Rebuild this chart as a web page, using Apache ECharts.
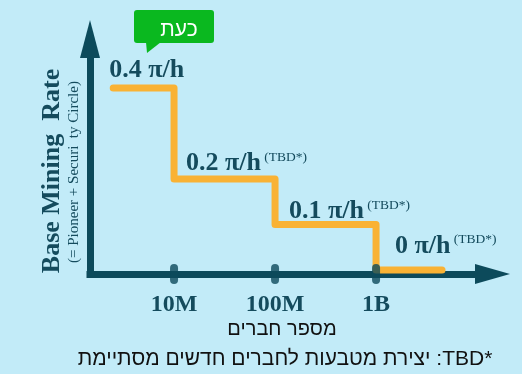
<!DOCTYPE html>
<html>
<head>
<meta charset="utf-8">
<script src="https://cdn.jsdelivr.net/npm/echarts@6/dist/echarts.min.js"></script>
<style>
  html, body { margin: 0; padding: 0; background: #C2EBF8; }
  #chart { width: 522px; height: 374px; }
</style>
</head>
<body>
<div id="chart"></div>
<script>
// ---- data ----
const memberPoints = [2.5e6, 1e7, 1e8, 1e9, 4.5e9];   // members (x) where each step point sits
const rateValues   = [0.4, 0.2, 0.1, 0, 0];            // base mining rate (π/h)
const rateLabels   = ['0.4 π/h', '0.2 π/h', '0.1 π/h', '0 π/h', ''];
const tbdFlags     = [false, true, true, true, false];
const tickValues   = [1e7, 1e8, 1e9];
const tickLabels   = ['10M', '100M', '1B'];
const yTitle       = 'Base Mining  Rate';
const ySubtitle    = '(= Pioneer + Securi  ty Circle)';
const xTitle       = 'מספר חברים';
const footnote     = '*TBD: יצירת מטבעות לחברים חדשים מסתיימת';
const nowLabel     = 'כעת';

// ---- style ----
const AXIS = '#0C4A5B';
const TEXT = '#144B5D';
const ORANGE = '#F9B234';
const GREEN = '#0AB81F';
const SERIF = '"Liberation Serif", "DejaVu Serif", serif';
const SANS = '"Liberation Sans", "DejaVu Sans", sans-serif';

const chart = echarts.init(document.getElementById('chart'), null, { renderer: 'canvas' });

const labelNudge = [[-4, -5], [12, -3], [14, 0], [19, -11], [0, 0]];

const lineData = memberPoints.map((x, i) => ({
  value: [x, rateValues[i]],
  label: {
    show: rateLabels[i] !== '',
    offset: labelNudge[i],
    formatter: rateLabels[i] + (tbdFlags[i] ? '{s| (TBD*)}' : '')
  }
}));

function tickLabelFor(v) {
  const e = Math.log10(v);
  for (let i = 0; i < tickValues.length; i++) {
    if (Math.abs(Math.log10(tickValues[i]) - e) < 1e-6) return tickLabels[i];
  }
  return '';
}

const option = {
  backgroundColor: '#C2EBF8',
  animation: false,
  grid: { left: 90, right: 29.5, top: 39, bottom: 100 },
  xAxis: {
    type: 'log',
    logBase: 10,
    min: 1.472e6,
    max: 1.422e10,
    axisLine: {
      onZero: false,
      symbol: ['none', 'triangle'],
      symbolSize: [20, 35],
      lineStyle: { color: AXIS, width: 7, cap: 'square' }
    },
    axisTick: { show: false },
    splitLine: { show: false },
    axisLabel: {
      formatter: tickLabelFor,
      margin: 19,
      color: TEXT,
      fontFamily: SERIF,
      fontWeight: 'bold',
      fontSize: 24
    }
  },
  yAxis: {
    type: 'value',
    min: -0.009,
    max: 0.508,
    axisLine: {
      show: true,
      onZero: false,
      symbol: ['none', 'triangle'],
      symbolSize: [20, 38],
      lineStyle: { color: AXIS, width: 7, cap: 'square' }
    },
    axisTick: { show: false },
    axisLabel: { show: false },
    splitLine: { show: false }
  },
  series: [
    {
      type: 'line',
      step: 'end',
      data: lineData,
      symbol: 'circle',
      symbolSize: 0,
      showSymbol: true,
      z: 5,
      lineStyle: { color: ORANGE, width: 7, cap: 'round', join: 'round' },
      itemStyle: { color: ORANGE },
      label: {
        position: 'top',
        distance: 0,
        align: 'left',
        verticalAlign: 'bottom',
        color: TEXT,
        fontFamily: SERIF,
        fontWeight: 'bold',
        fontSize: 26,
        rich: {
          s: { fontFamily: SERIF, fontWeight: 'normal', fontSize: 13.5, color: TEXT, verticalAlign: 'top' }
        }
      }
    },
    {
      type: 'scatter',
      data: tickValues.map(v => [v, -0.009]),
      symbol: 'path://M4,0 A4,4 0 0 1 8,4 L8,16 A4,4 0 0 1 4,20 A4,4 0 0 1 0,16 L0,4 A4,4 0 0 1 4,0 Z',
      symbolSize: [8, 20],
      symbolKeepAspect: false,
      clip: false,
      z: 6,
      itemStyle: { color: AXIS }
    }
  ],
  graphic: [
    {
      type: 'group',
      children: [
        { type: 'rect', shape: { x: 134, y: 10, width: 80, height: 33, r: 3 }, style: { fill: GREEN } },
        { type: 'polygon', shape: { points: [[146, 42], [161, 42], [147, 53]] }, style: { fill: GREEN } },
        { type: 'text', x: 179, y: 30, style: { text: nowLabel, fill: '#FFFFFF', font: '21px ' + SANS, align: 'center', verticalAlign: 'middle' } }
      ]
    },
    { type: 'text', x: 52, y: 171, rotation: Math.PI / 2,
      style: { text: yTitle, fill: TEXT, font: 'bold 26px ' + SERIF, align: 'center', verticalAlign: 'middle' } },
    { type: 'text', x: 74, y: 172, rotation: Math.PI / 2,
      style: { text: ySubtitle, fill: TEXT, font: '15px ' + SERIF, align: 'center', verticalAlign: 'middle' } },
    { type: 'text', x: 282, y: 329,
      style: { text: xTitle, fill: '#111111', font: '20px ' + SANS, align: 'center', verticalAlign: 'middle' } },
    { type: 'text', x: 285, y: 359,
      style: { text: '\u202B' + footnote + '\u202C', fill: '#111111', font: '21px ' + SANS, align: 'center', verticalAlign: 'middle' } }
  ]
};

chart.setOption(option);
</script>
</body>
</html>
